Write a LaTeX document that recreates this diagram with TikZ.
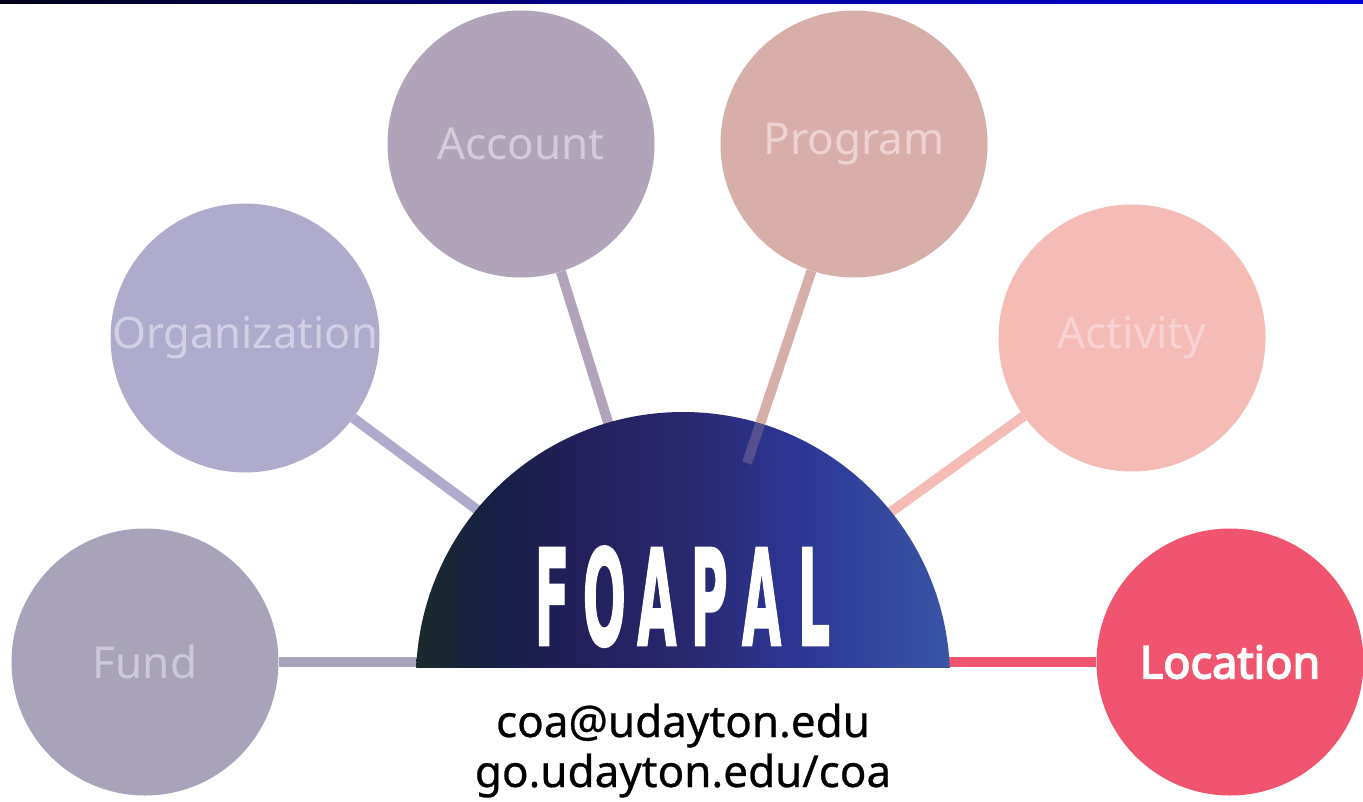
\documentclass[tikz,border=0pt]{standalone}
\usepackage{fontspec}
\setmainfont{Noto Sans}
\newfontfamily\foafont{DejaVu Sans}[BoldFeatures={FakeBold=2}]
\newfontfamily\labboldfont{Noto Sans}[FakeBold=3.5]
\newfontfamily\contactfont{Noto Sans}[FakeBold=0.6]
\usetikzlibrary{calc}
\definecolor{fundC}{HTML}{A8A2BB}
\definecolor{fundT}{HTML}{CDC9DB}
\definecolor{orgC}{HTML}{AEABCD}
\definecolor{orgT}{HTML}{D2D0E5}
\definecolor{acctC}{HTML}{B0A3BA}
\definecolor{acctT}{HTML}{D4CBDB}
\definecolor{progC}{HTML}{D8AEA8}
\definecolor{progT}{HTML}{ECD3D1}
\definecolor{actC}{HTML}{F4BCB4}
\definecolor{actT}{HTML}{F9D3D4}
\definecolor{locC}{HTML}{F0546F}
\definecolor{sA}{HTML}{1A2A2C}
\definecolor{sB}{HTML}{162045}
\definecolor{sC}{HTML}{221F5A}
\definecolor{sD}{HTML}{29286E}
\definecolor{sE}{HTML}{2B3593}
\definecolor{sF}{HTML}{3A55A5}
\definecolor{barL}{HTML}{000018}
\definecolor{barM}{HTML}{00009A}
\definecolor{barR}{HTML}{0000D8}
\pgfdeclarehorizontalshading{foapalshade}{100bp}{color(0bp)=(sA); color(25bp)=(sA); color(32.5bp)=(sB); color(40bp)=(sC); color(50bp)=(sD); color(60bp)=(sE); color(75bp)=(sF); color(100bp)=(sF)}
\newcommand{\foaletter}[1]{\makebox[52.4pt]{\scalebox{0.38}[1]{#1}}}
\tikzset{
  bubble/.style={circle, minimum size=267pt, inner sep=0pt, fill=#1C, text=#1T,
    font=\fontsize{44}{50}\selectfont},
  link/.style={line width=10pt, #1C},
  contact/.style={anchor=base, inner sep=0pt, text=black, font=\contactfont\fontsize{44}{50}\selectfont}
}
\begin{document}
\begin{tikzpicture}[x=1pt,y=-1pt]
\useasboundingbox (0,0) rectangle (1363,801);
\shade[left color=barL, right color=barR, middle color=barM] (0,0) rectangle (1363,3);
\coordinate (c) at (683,662);
\coordinate (pend) at (747,463);
\node[bubble=fund] (fund) at (145,662) {Fund};
\node[bubble=org, font=\fontsize{43.5}{50}\selectfont] (org) at (245,338) {Organization};
\node[bubble=acct] (acct) at (521,144) {Account};
\node[bubble=prog] (prog) at (854,144) {Program};
\node[bubble=act] (act) at (1132,338) {Activity};
\node[bubble=loc, text=white, font=\labboldfont\fontsize{45}{50}\selectfont] (loc) at (1230,662) {Location};
\draw[link=fund] (fund) -- (c);
\draw[link=org] (org) -- (c);
\draw[link=acct] (acct) -- (c);
\draw[link=prog] (prog) -- (pend);
\draw[link=act] (act) -- (c);
\draw[link=loc] (loc) -- (c);
\begin{scope}
  \clip (416,0) rectangle (950,667);
  \shade[shading=foapalshade] (683,679) circle (267);
  \clip (683,679) circle (267);
  \draw[link=prog, opacity=0.25] (prog) -- (pend);
\end{scope}
\node[anchor=base, inner sep=0pt, text=white, font=\foafont\bfseries\fontsize{133}{140}\selectfont] (foapal) at (683,645)
  {\foaletter{F}\foaletter{O}\foaletter{A}\foaletter{P}\foaletter{A}\foaletter{L}};
\node[contact] (mail) at (683,737) {coa@udayton.edu};
\node[contact] (web) at (683,787) {go.udayton.edu/coa};
\end{tikzpicture}
\end{document}
